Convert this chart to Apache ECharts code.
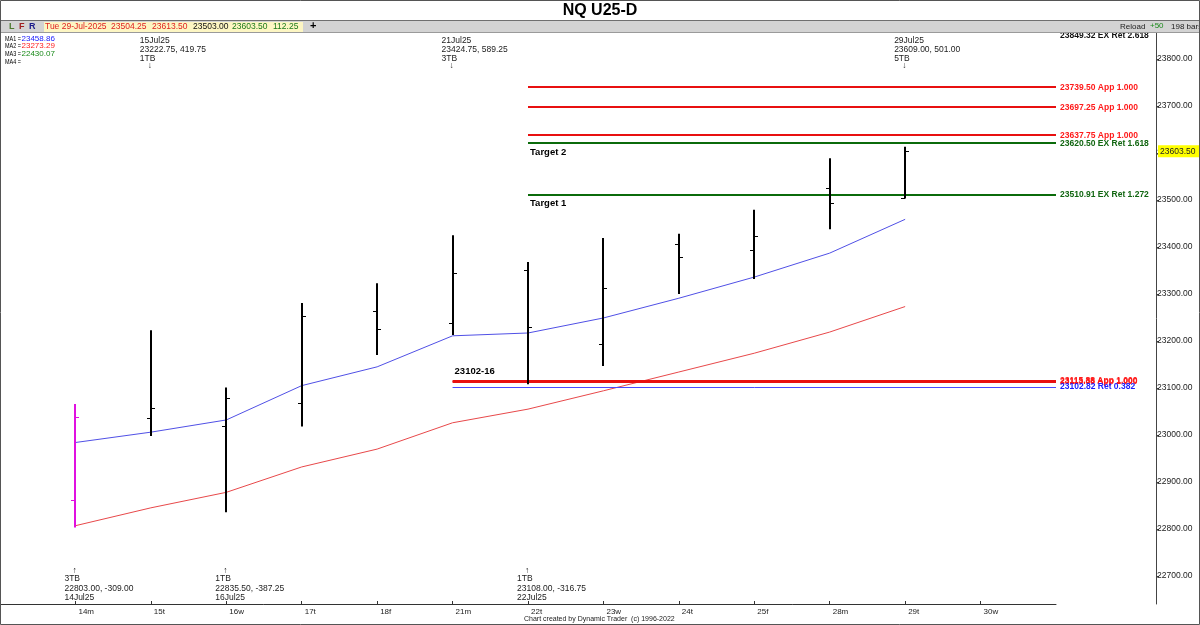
<!DOCTYPE html>
<html><head><meta charset="utf-8">
<script src="https://cdn.jsdelivr.net/npm/echarts@6/dist/echarts.min.js"></script>
<style>html,body{margin:0;padding:0;background:#fff}#c{width:1200px;height:625px}</style>
</head><body><div id="c"></div>
<script>
// ---- data ----
const categories = ['14m','15t','16w','17t','18f','21m','22t','23w','24t','25f','28m','29t','30w'];
const opens  = [22862, 23036, 23019, 23068, 23264, 23238, 23350, 23194, 23407, 23394, 23526, 23504.25];
const highs  = [23066, 23222.75, 23101, 23281, 23323, 23424.75, 23368, 23419, 23428, 23479, 23589, 23613.50];
const lows   = [22803, 22998, 22835.50, 23018, 23170, 23213, 23108, 23147, 23300, 23332, 23438, 23503.00];
const closes = [23038, 23058, 23079, 23253, 23226, 23345, 23230, 23313, 23379, 23423, 23494, 23603.50];
const ma1 = [22984, 23006, 23032, 23105, 23145, 23211, 23217, 23249, 23291, 23336, 23387, 23458.86];
const ma2 = [22807, 22845, 22878, 22932, 22970, 23026, 23055, 23094, 23134, 23174, 23219, 23273.29];
const yTicks = [22700, 22800, 22900, 23000, 23100, 23200, 23300, 23400, 23500, 23600, 23700, 23800];
const levelValues = [23849.32, 23739.50, 23697.25, 23637.75, 23620.50, 23510.91, 23115.88, 23113.38, 23102.82];
const levelStart  = [6, 6, 6, 6, 6, 6, 5, 5, 5];
const levelLabels = ['23849.32 EX Ret 2.618','23739.50 App 1.000','23697.25 App 1.000','23637.75 App 1.000',
  '23620.50 EX Ret 1.618','23510.91 EX Ret 1.272','23115.88 App 1.000','23113.38 App 1.000','23102.82 Ret 0.382'];
const levelKinds  = ['top','app','app','app','ext','ext','app','app','ret'];
const noteTexts = ['Target 2','Target 1','23102-16'];
const noteIdx   = [6, 6, 5];
const noteVals  = [23620.50, 23510.91, 23115.88];
const topNoteIdx  = [1, 5, 11];
const topNoteDate = ['15Jul25','21Jul25','29Jul25'];
const topNoteVal  = ['23222.75, 419.75','23424.75, 589.25','23609.00, 501.00'];
const topNoteTb   = ['1TB','3TB','5TB'];
const botNoteIdx  = [0, 2, 6];
const botNoteDate = ['14Jul25','16Jul25','22Jul25'];
const botNoteVal  = ['22803.00, -309.00','22835.50, -387.25','23108.00, -316.75'];
const botNoteTb   = ['3TB','1TB','1TB'];
const headerVals = ['Tue 29-Jul-2025','23504.25','23613.50','23503.00','23603.50','112.25'];
const maLabels = ['MA1 =','MA2 =','MA3 =','MA4 ='];
const maValues = ['23458.86','23273.29','22430.07',''];

// ---- build ----
const FONT = "'Liberation Sans', Arial, sans-serif";
const ohlc = categories.slice(0, opens.length).map((c, i) => [i, opens[i], highs[i], lows[i], closes[i]]);
const kindStyle = {
  top: {line: 'rgba(0,0,0,0)', w: 0, text: '#111'},
  app: {line: '#e81010', w: 2, text: '#ff1a1a'},
  ext: {line: '#0b6b0b', w: 2, text: '#116611'},
  ret: {line: '#4a4aff', w: 1, text: '#1a1aff'}
};
const XMAX = 13;

function txt(x, y, text, fill, size, bold, align, z) {
  return {type: 'text', x, y, z: z || 100,
    style: {text, fill, font: (bold ? 'bold ' : '') + size + 'px ' + FONT,
      align: align || 'left', textAlign: align || 'left', verticalAlign: 'middle', textVerticalAlign: 'middle'}};
}

const graphics = [];
graphics.push({type: 'rect', shape: {x: 0, y: 0, width: 1200, height: 20}, style: {fill: '#fff'}, z: 99});
graphics.push(txt(600, 11, 'NQ U25-D', '#000', 16, true, 'center'));
graphics.push({type: 'rect', shape: {x: 0, y: 20, width: 1200, height: 13}, style: {fill: '#d3d3d3'}, z: 99});
graphics.push({type: 'line', shape: {x1: 0, y1: 20.5, x2: 1200, y2: 20.5}, style: {stroke: '#6f6f6f', lineWidth: 1}, z: 100});
graphics.push({type: 'line', shape: {x1: 0, y1: 32.5, x2: 1200, y2: 32.5}, style: {stroke: '#9a9a9a', lineWidth: 1}, z: 100});
graphics.push({type: 'rect', shape: {x: 44, y: 22, width: 259, height: 10}, style: {fill: '#fdf6c3'}, z: 100});
graphics.push(txt(9, 27, 'L', '#4d7a2e', 9, true));
graphics.push(txt(19, 27, 'F', '#a02020', 9, true));
graphics.push(txt(29, 27, 'R', '#1c1c8a', 9, true));
const hdrX = [45, 111, 152, 193, 232, 273];
const hdrC = ['#e02020', '#e02020', '#e02020', '#111', '#1a7a1a', '#1a7a1a'];
headerVals.forEach((t, i) => graphics.push(txt(hdrX[i], 27, t, hdrC[i], 8.5, false)));
graphics.push(txt(310, 26, '+', '#000', 11, true));
graphics.push(txt(1120, 27, 'Reload', '#222', 8, false));
graphics.push(txt(1150, 26, '+50', '#1a8a1a', 8, false));
graphics.push(txt(1171, 27, '198 bars', '#222', 8, false));
const maColors = ['#2020ff', '#ff2020', '#1a8a1a', '#000'];
maLabels.forEach((t, i) => {
  const lab = txt(5, 38.5 + i * 7.7, t, '#000', 8, false, 'left', 50);
  lab.scaleX = 0.68;
  graphics.push(lab);
  graphics.push(txt(21.5, 38.5 + i * 7.7, maValues[i], maColors[i], 8, false, 'left', 50));
});
graphics.push(txt(524, 619, 'Chart created by Dynamic Trader  (c) 1996-2022', '#222', 7, false, 'left', 50));
graphics.push({type: 'rect', shape: {x: 0.5, y: 0.5, width: 1199, height: 624}, style: {fill: null, stroke: '#555', lineWidth: 1}, z: 101});

const option = {
  animation: false,
  backgroundColor: '#fff',
  grid: {left: 0, right: 144, top: 33, bottom: 21, containLabel: false},
  xAxis: {
    type: 'value', min: -1, max: XMAX,
    axisLine: {show: true, onZero: false, lineStyle: {color: '#333', width: 1}},
    axisTick: {show: true, inside: true, length: 3, lineStyle: {color: '#333'}, customValues: categories.map((c, i) => i)},
    axisLabel: {customValues: categories.map((c, i) => i), formatter: v => categories[Math.round(v)] || '',
      color: '#222', fontSize: 8, fontFamily: FONT, align: 'left', padding: [0, 0, 0, 3], margin: 4},
    splitLine: {show: false}
  },
  yAxis: {
    type: 'value', position: 'right', offset: 100, min: 22640.4, max: 23855.3,
    axisLine: {show: true, onZero: false, lineStyle: {color: '#444', width: 1}},
    axisTick: {show: true, inside: false, length: 3, lineStyle: {color: '#444'}, customValues: yTicks},
    axisLabel: {customValues: yTicks, formatter: v => v.toFixed(2), color: '#222', fontSize: 8.5, fontFamily: FONT, margin: 1},
    splitLine: {show: false}
  },
  graphic: {elements: graphics},
  series: [
    {type: 'line', name: 'MA2', data: ma2.map((v, i) => [i, v]), symbol: 'none', lineStyle: {color: '#e8484a', width: 1}, z: 3},
    {type: 'line', name: 'MA1', data: ma1.map((v, i) => [i, v]), symbol: 'none', lineStyle: {color: '#5050e6', width: 1}, z: 3},
    {
      type: 'custom', name: 'levels', z: 4,
      data: levelValues.map((v, i) => [levelStart[i], v, i]),
      encode: {x: 0, y: 1},
      renderItem(params, api) {
        const k = api.value(2);
        const st = kindStyle[levelKinds[k]];
        const a = api.coord([api.value(0), api.value(1)]);
        const b = api.coord([XMAX, api.value(1)]);
        const y = Math.round(a[1]) + (st.w === 1 ? 0.5 : 0);
        return {type: 'group', children: [
          {type: 'line', shape: {x1: a[0], y1: y, x2: b[0], y2: y}, style: {stroke: st.line, lineWidth: st.w}},
          {type: 'text', x: b[0] + 4, y: a[1], style: {text: levelLabels[k], fill: st.text,
            font: 'bold 8.5px ' + FONT, align: 'left', textAlign: 'left', verticalAlign: 'middle', textVerticalAlign: 'middle'}}
        ]};
      }
    },
    {
      type: 'custom', name: 'notes', z: 5,
      data: noteVals.map((v, i) => [noteIdx[i], v, i]),
      encode: {x: 0, y: 1},
      renderItem(params, api) {
        const k = api.value(2);
        const p = api.coord([api.value(0), api.value(1)]);
        const dy = k < 2 ? 9 : -9;
        return {type: 'text', x: p[0] + 2, y: p[1] + dy, style: {text: noteTexts[k], fill: '#000',
          font: 'bold 9.5px ' + FONT, align: 'left', textAlign: 'left', verticalAlign: 'middle', textVerticalAlign: 'middle'}};
      }
    },
    {
      type: 'custom', name: 'ohlc', z: 6,
      data: ohlc,
      encode: {x: 0, y: [1, 2, 3, 4]},
      renderItem(params, api) {
        const i = api.value(0);
        const o = api.coord([i, api.value(1)]);
        const h = api.coord([i, api.value(2)]);
        const l = api.coord([i, api.value(3)]);
        const c = api.coord([i, api.value(4)]);
        const x = Math.round(h[0]);
        const col = i === 0 ? '#e010e0' : '#000';
        return {type: 'group', children: [
          {type: 'line', shape: {x1: x, y1: h[1], x2: x, y2: l[1]}, style: {stroke: col, lineWidth: 2}},
          {type: 'line', shape: {x1: x - 4, y1: Math.round(o[1]) + 0.5, x2: x, y2: Math.round(o[1]) + 0.5}, style: {stroke: col, lineWidth: 1}},
          {type: 'line', shape: {x1: x, y1: Math.round(c[1]) + 0.5, x2: x + 4, y2: Math.round(c[1]) + 0.5}, style: {stroke: col, lineWidth: 1}}
        ]};
      }
    },
    {
      type: 'custom', name: 'lastPrice', z: 7,
      data: [[closes.length - 1, closes[closes.length - 1]]],
      encode: {x: 0, y: 1},
      renderItem(params, api) {
        const p = api.coord([api.value(0), api.value(1)]);
        const e = api.coord([XMAX, api.value(1)]);
        const x0 = e[0] + 102;
        return {type: 'group', children: [
          {type: 'rect', shape: {x: x0, y: p[1] - 6, width: 44, height: 12}, style: {fill: '#ffff00'}},
          {type: 'text', x: x0 + 2, y: p[1], style: {text: api.value(1).toFixed(2), fill: '#222',
            font: '8.5px ' + FONT, align: 'left', textAlign: 'left', verticalAlign: 'middle', textVerticalAlign: 'middle'}}
        ]};
      }
    },
    {
      type: 'custom', name: 'topNotes', z: 8,
      data: topNoteIdx.map((v, i) => [v, i]),
      encode: {x: 0},
      renderItem(params, api) {
        const k = api.value(1);
        const x = api.coord([api.value(0), 23000])[0];
        const mk = (dx, y, t) => ({type: 'text', x: x + dx, y, style: {text: t, fill: '#222', font: '8.5px ' + FONT,
          align: 'left', textAlign: 'left', verticalAlign: 'middle', textVerticalAlign: 'middle'}});
        return {type: 'group', children: [
          mk(-11, 41, topNoteDate[k]), mk(-11, 50, topNoteVal[k]), mk(-11, 59, topNoteTb[k]), mk(-3, 66, '↓')
        ]};
      }
    },
    {
      type: 'custom', name: 'botNotes', z: 8,
      data: botNoteIdx.map((v, i) => [v, i]),
      encode: {x: 0},
      renderItem(params, api) {
        const k = api.value(1);
        const x = api.coord([api.value(0), 23000])[0];
        const mk = (dx, y, t) => ({type: 'text', x: x + dx, y, style: {text: t, fill: '#222', font: '8.5px ' + FONT,
          align: 'left', textAlign: 'left', verticalAlign: 'middle', textVerticalAlign: 'middle'}});
        return {type: 'group', children: [
          mk(-3, 571, '↑'), mk(-11, 579, botNoteTb[k]), mk(-11, 589, botNoteVal[k]), mk(-11, 598, botNoteDate[k])
        ]};
      }
    }
  ]
};
const chart = echarts.init(document.getElementById('c'), null, {renderer: 'canvas'});
chart.setOption(option);
</script>
</body></html>
